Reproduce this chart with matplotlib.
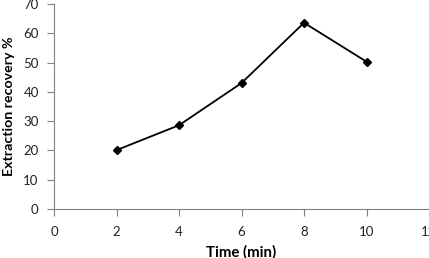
import matplotlib
matplotlib.use('Agg')
import matplotlib.pyplot as plt

# time (min) vs extraction recovery (%)
time_min = [2, 4, 6, 8, 10]
recovery = [20.1, 28.6, 43.0, 63.6, 50.3]
xticks = [0, 2, 4, 6, 8, 10, 12]
yticks = [0, 10, 20, 30, 40, 50, 60, 70]

plt.rcParams['font.family'] = ['Lato', 'DejaVu Sans']

fig = plt.figure(figsize=(4.29, 2.58), dpi=100)
ax = fig.add_axes([54/429, 1-209/258, 1-54/429, 205/258])

ax.plot(time_min, recovery, color='black', lw=1.3, marker='D', ms=4.5, clip_on=False)

ax.set_xlim(0, 12)
ax.set_ylim(0, 70)
ax.set_xticks(xticks)
ax.set_yticks(yticks)
ax.tick_params(labelsize=9.5, length=5, width=0.8, color='#808080', labelcolor='#222222')
ax.tick_params(axis='x', pad=7)
ax.tick_params(axis='y', pad=6)

for s in ['top', 'right']:
    ax.spines[s].set_visible(False)
for s in ['left', 'bottom']:
    ax.spines[s].set_color('#808080')
    ax.spines[s].set_linewidth(0.8)

ax.set_xlabel('Time (min)', fontsize=10.8, fontweight='bold', labelpad=5)
ax.set_ylabel('Extraction recovery %', fontsize=10.2, fontweight='bold', labelpad=6)

fig.savefig('out.png', dpi=100)
